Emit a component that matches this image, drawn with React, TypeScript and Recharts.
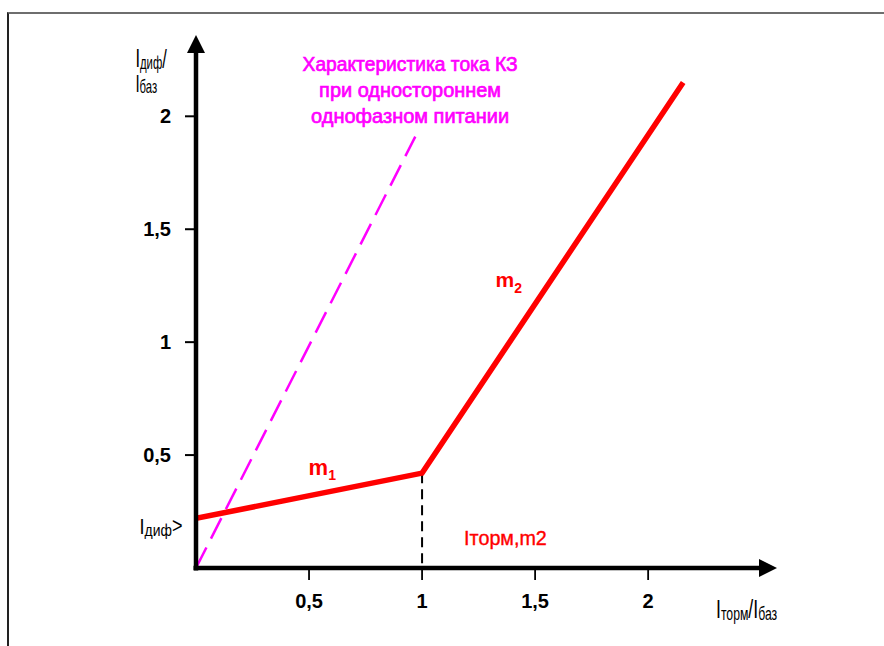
import React from 'react';
import { LineChart, Line, XAxis, YAxis, ReferenceLine, ReferenceDot } from 'recharts';

// ---- data ----
const xTicks = [0.5, 1, 1.5, 2];
const yTicks = [0.5, 1, 1.5, 2];
const xAxisMax = 2.57;
const yAxisMax = 2.36;

const restraintX = [0, 1, 2.155];
const restraintY = [0.22, 0.42, 2.15];
const faultX = [0, 0.97];
const faultY = [0, 1.91];
const kneeX = [1, 1];
const kneeY = [0.42, 0];

const faultCaption = ['Характеристика тока КЗ', 'при одностороннем', 'однофазном питании'];

const toPoints = (xs: number[], ys: number[]) => xs.map((x, i) => ({ x, y: ys[i] }));
const restraint = toPoints(restraintX, restraintY);
const fault = toPoints(faultX, faultY);
const knee = toPoints(kneeX, kneeY);

const FONT = 'Liberation Sans, Arial, Helvetica, sans-serif';
const fmt = (v: number) => String(v).replace('.', ',');

const arrowShape = (p: any) => {
  const { x1, y1, x2, y2 } = p;
  const len = 18;
  const half = 9;
  const dx = x2 - x1;
  const dy = y2 - y1;
  const d = Math.hypot(dx, dy) || 1;
  const ux = dx / d;
  const uy = dy / d;
  const bx = x2 - ux * len;
  const by = y2 - uy * len;
  const px = -uy;
  const py = ux;
  return (
    <g>
      <line x1={x1 - ux * 2.5} y1={y1 - uy * 2.5} x2={bx + ux * 2} y2={by + uy * 2} stroke="#000" strokeWidth={4.5} />
      <polygon
        points={`${x2},${y2} ${bx + px * half},${by + py * half} ${bx - px * half},${by - py * half}`}
        fill="#000"
      />
    </g>
  );
};

const textAt = (sx: number, content: React.ReactNode, extra: any = {}) => (p: any) => (
  <g transform={`translate(${p.cx},${p.cy}) scale(${sx},1)`}>
    <text x={0} y={0} fontFamily={FONT} {...extra}>
      {content}
    </text>
  </g>
);

const captionShape = (p: any) => {
  const widths = [215, 182, 198];
  return (
    <g>
      {faultCaption.map((line, i) => (
        <text
          key={i}
          x={p.cx}
          y={p.cy + i * 26}
          textAnchor="middle"
          fontFamily={FONT}
          fontSize={20}
          fill="#ff00ff"
          stroke="#ff00ff"
          strokeWidth={0.7}
          textLength={widths[i]}
          lengthAdjust="spacingAndGlyphs"
        >
          {line}
        </text>
      ))}
    </g>
  );
};

export default function App() {
  return (
    <div style={{ position: 'absolute', left: 0, top: 0, width: 884, height: 646, overflow: 'hidden', background: '#fff' }}>
      <div
        style={{
          position: 'absolute',
          left: 7,
          top: 12,
          width: 877,
          height: 634,
          boxSizing: 'border-box',
          borderTop: '2px solid #6e6e6e',
          borderLeft: '2px solid #222',
        }}
      />
      <div style={{ position: 'absolute', left: 0, top: 0 }}>
        <LineChart width={884} height={646} margin={{ top: 35, right: 107, left: 136, bottom: 38 }}>
          <XAxis
            type="number"
            dataKey="x"
            domain={[0, xAxisMax]}
            allowDataOverflow
            ticks={xTicks}
            interval={0}
            tickFormatter={fmt}
            axisLine={false}
            tickLine={{ stroke: '#000', strokeWidth: 1.8 }}
            tickSize={12}
            tickMargin={14}
            height={40}
            tick={{ fill: '#000', fontSize: 20, fontWeight: 'bold', fontFamily: FONT }}
          />
          <YAxis
            type="number"
            dataKey="y"
            domain={[0, yAxisMax]}
            allowDataOverflow
            ticks={yTicks}
            interval={0}
            tickFormatter={fmt}
            axisLine={false}
            tickLine={{ stroke: '#000', strokeWidth: 2 }}
            tickSize={11}
            tickMargin={14}
            width={60}
            tick={{ fill: '#000', fontSize: 20, fontWeight: 'bold', fontFamily: FONT }}
          />
          <Line
            data={fault}
            dataKey="y"
            stroke="#ff00ff"
            strokeWidth={2.5}
            strokeDasharray="23 10"
            dot={false}
            activeDot={false}
            isAnimationActive={false}
          />
          <Line
            data={knee}
            dataKey="y"
            stroke="#000"
            strokeWidth={2}
            strokeDasharray="10 6"
            dot={false}
            activeDot={false}
            isAnimationActive={false}
          />
          <Line
            data={restraint}
            dataKey="y"
            stroke="#ff0000"
            strokeWidth={5.5}
            dot={false}
            activeDot={false}
            isAnimationActive={false}
          />
          <ReferenceLine segment={[{ x: 0, y: 0 }, { x: xAxisMax, y: 0 }]} shape={arrowShape} ifOverflow="visible" />
          <ReferenceLine segment={[{ x: 0, y: 0 }, { x: 0, y: yAxisMax }]} shape={arrowShape} ifOverflow="visible" />

          <ReferenceDot x={0.947} y={2.2} ifOverflow="visible" shape={captionShape} />
          <ReferenceDot
            x={-0.268}
            y={2.217}
            ifOverflow="visible"
            shape={textAt(
              0.63,
              <>
                <tspan fontSize={26}>I</tspan>
                <tspan fontSize={18} dy={2}>диф</tspan>
                <tspan fontSize={26} dy={-1}>/</tspan>
              </>,
              { fill: '#000' }
            )}
          />
          <ReferenceDot
            x={-0.268}
            y={2.106}
            ifOverflow="visible"
            shape={textAt(
              0.63,
              <>
                <tspan fontSize={24}>I</tspan>
                <tspan fontSize={18} dy={1}>баз</tspan>
              </>,
              { fill: '#000' }
            )}
          />
          <ReferenceDot
            x={-0.25}
            y={0.15}
            ifOverflow="visible"
            shape={textAt(
              0.82,
              <>
                <tspan fontSize={22}>I</tspan>
                <tspan fontSize={17} dy={2}>диф</tspan>
                <tspan fontSize={22} dy={-3}>&gt;</tspan>
              </>,
              { fill: '#000' }
            )}
          />
          <ReferenceDot
            x={2.3}
            y={-0.221}
            ifOverflow="visible"
            shape={textAt(
              0.68,
              <>
                <tspan fontSize={26}>I</tspan>
                <tspan fontSize={18} dy={2}>торм</tspan>
                <tspan fontSize={26} dy={-2}>/I</tspan>
                <tspan fontSize={18} dy={2}>баз</tspan>
              </>,
              { fill: '#000' }
            )}
          />
          <ReferenceDot
            x={1.186}
            y={0.102}
            ifOverflow="visible"
            shape={textAt(0.94, 'Iторм,m2', { fill: '#ff0000', stroke: '#ff0000', strokeWidth: 0.4, fontSize: 21 })}
          />
          <ReferenceDot
            x={0.498}
            y={0.412}
            ifOverflow="visible"
            shape={textAt(
              1,
              <>
                <tspan fontSize={22}>m</tspan>
                <tspan fontSize={14} dy={5}>1</tspan>
              </>,
              { fill: '#ff0000', fontWeight: 'bold' }
            )}
          />
          <ReferenceDot
            x={1.325}
            y={1.243}
            ifOverflow="visible"
            shape={textAt(
              1,
              <>
                <tspan fontSize={21}>m</tspan>
                <tspan fontSize={14} dy={6}>2</tspan>
              </>,
              { fill: '#ff0000', fontWeight: 'bold' }
            )}
          />
        </LineChart>
      </div>
    </div>
  );
}
